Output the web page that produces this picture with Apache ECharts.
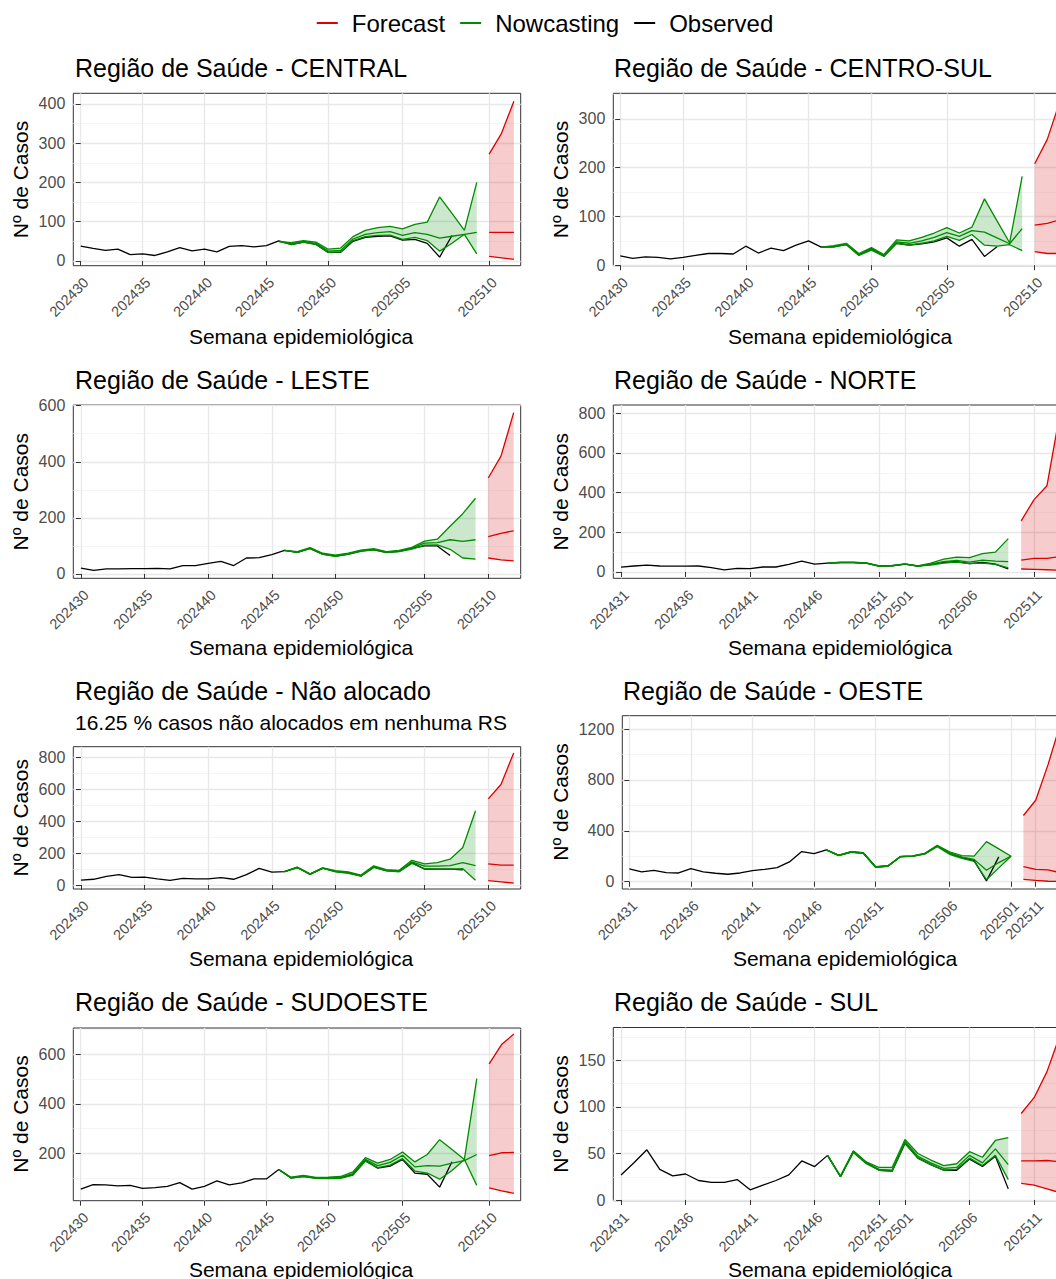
<!DOCTYPE html>
<html><head><meta charset="utf-8">
<script src="https://cdn.jsdelivr.net/npm/echarts@6/dist/echarts.min.js"></script>
<style>html,body{margin:0;padding:0;overflow:hidden;background:#fff}#c{width:1090px;height:1279px}</style>
</head><body><div id="c"></div><script>
// ---------- tick labels (week index -> epidemiological week label) ----------
const weekTicksA = [0,5,10,15,20,26,33];
const weekLabelsA = ['202430','202435','202440','202445','202450','202505','202510'];
const weekTicksB = [0,5,10,15,20,27,32];
const weekLabelsB = ['202430','202435','202440','202445','202450','202505','202510'];
const weekTicksC = [0,5,10,15,20,22,27,32];
const weekLabelsC = ['202431','202436','202441','202446','202451','202501','202506','202511'];
const weekTicksD = [0,5,10,15,20,26,31,33];
const weekLabelsD = ['202431','202436','202441','202446','202451','202506','202501','202511'];

// ---------- CENTRAL ----------
const centralObs   = [38,32,27,30,16,18,14,23,34,26,30,23,37,39,36,39,51,42,48,43,22,22,50,60,63,64,53,55,45,10,65];
const centralNcStart = 16;
const centralNcLo  = [50,42,48,42,22,23,52,62,65,66,55,60,52,25,45,68,18];
const centralNcMed = [50,44,50,45,25,27,56,68,72,75,65,72,68,58,63,68,73];
const centralNcHi  = [50,47,52,48,30,33,62,78,85,88,82,93,99,163,121,78,200];
const centralFcStart = 33;
const centralFcLo  = [12,8,4];
const centralFcMed = [73,73,73];
const centralFcHi  = [272,325,407];

// ---------- CENTRO-SUL ----------
const centroSulObs   = [19,14,17,16,13,16,20,24,24,23,39,25,35,30,41,50,37,38,43,21,34,19,45,41,44,48,56,39,53,18,38];
const centroSulNcStart = 16;
const centroSulNcLo  = [37,37,42,20,31,18,45,41,45,50,59,51,63,41,39,42,30];
const centroSulNcMed = [37,38,43,22,33,20,48,45,50,57,67,59,71,68,56,44,75];
const centroSulNcHi  = [37,40,45,24,36,22,52,50,57,66,77,66,78,136,91,46,182];
const centroSulFcStart = 33;
const centroSulFcLo  = [28,24,24];
const centroSulFcMed = [82,86,93];
const centroSulFcHi  = [208,258,336];

// ---------- LESTE ----------
const lesteObs   = [21,13,18,18,19,19,20,18,30,30,38,45,30,57,58,69,84,77,91,71,64,71,82,87,77,81,91,100,100,66];
const lesteNcStart = 16;
const lesteNcLo  = [84,77,90,70,63,70,81,86,76,80,89,103,104,88,57,53];
const lesteNcMed = [84,78,92,72,65,72,83,88,78,82,92,110,112,122,116,122];
const lesteNcHi  = [84,80,94,74,67,74,85,90,80,84,95,117,124,170,215,270];
const lesteFcStart = 32;
const lesteFcLo  = [57,50,47];
const lesteFcMed = [133,145,154];
const lesteFcHi  = [342,420,575];

// ---------- NORTE ----------
const norteObs   = [24,30,34,30,29,29,30,22,11,18,17,25,25,38,55,40,45,47,47,44,29,31,39,29,38,48,52,42,48,40,15];
const norteNcStart = 16;
const norteNcLo  = [45,47,47,44,29,31,39,29,35,45,50,42,45,38,20];
const norteNcMed = [45,48,48,45,30,32,40,30,40,52,58,50,60,55,52];
const norteNcHi  = [45,49,49,46,31,33,41,31,45,65,75,72,92,100,168];
const norteFcStart = 31;
const norteFcLo  = [15,13,11,8];
const norteFcMed = [60,68,68,78];
const norteFcHi  = [258,365,435,800];

// ---------- Não alocado ----------
const naoAlocObs   = [31,36,54,65,48,50,38,29,42,38,38,46,36,65,104,81,84,110,68,106,85,77,57,112,90,85,140,100,100,100,95];
const naoAlocNcStart = 16;
const naoAlocNcLo  = [84,108,66,104,82,73,55,110,88,83,135,102,100,100,102,30];
const naoAlocNcMed = [84,110,68,106,85,77,58,115,92,88,145,118,118,122,140,122];
const naoAlocNcHi  = [84,112,70,108,90,82,62,120,97,92,155,133,140,162,235,465];
const naoAlocFcStart = 32;
const naoAlocFcLo  = [28,20,12];
const naoAlocFcMed = [132,125,125];
const naoAlocFcHi  = [540,630,828];

// ---------- OESTE ----------
const oesteObs   = [100,76,89,71,68,102,76,66,58,68,86,97,110,155,236,220,249,207,233,225,115,123,196,200,220,280,225,190,165,5,195];
const oesteNcStart = 16;
const oesteNcLo  = [249,205,231,223,113,121,194,198,217,275,215,182,160,15,108,200];
const oesteNcMed = [249,207,233,225,115,123,196,200,220,280,225,192,175,90,150,200];
const oesteNcHi  = [249,209,235,227,117,125,198,202,223,285,235,205,200,315,258,200];
const oesteFcStart = 32;
const oesteFcLo  = [18,10,3,2];
const oesteFcMed = [118,97,92,70];
const oesteFcHi  = [520,640,920,1240];

// ---------- SUDOESTE ----------
const sudoesteObs   = [55,73,72,68,70,58,61,66,81,55,66,88,72,80,96,96,134,100,107,99,99,101,114,170,140,148,175,120,115,63,166];
const sudoesteNcStart = 16;
const sudoesteNcLo  = [134,99,106,98,97,98,112,168,142,152,178,128,120,95,130,175,70];
const sudoesteNcMed = [134,101,108,100,100,102,118,175,150,163,192,145,150,148,160,170,195];
const sudoesteNcHi  = [134,103,110,102,103,106,125,182,160,175,205,165,195,255,215,175,502];
const sudoesteFcStart = 33;
const sudoesteFcLo  = [60,48,38];
const sudoesteFcMed = [190,202,203];
const sudoesteFcHi  = [562,640,683];

// ---------- SUL ----------
const sulObs   = [27,40,54,33,26,28,21,19,19,22,11,16,21,27,42,36,48,25,52,40,32,31,61,45,38,32,32,44,36,47,12];
const sulNcStart = 16;
const sulNcLo  = [48,25,51,39,32,31,61,45,38,32,33,45,37,48,22];
const sulNcMed = [48,25,52,40,33,32,63,47,40,34,35,48,40,55,38];
const sulNcHi  = [48,26,53,41,35,35,65,50,43,37,39,52,46,64,67];
const sulFcStart = 31;
const sulFcLo  = [18,16,12,8];
const sulFcMed = [42,42,42.5,41];
const sulFcHi  = [93,110,138,177];

// ---------- y ticks ----------
const yTicksCentral = [0,100,200,300,400];
const yTicksCentroSul = [0,100,200,300];
const yTicksLeste = [0,200,400,600];
const yTicksNorte = [0,200,400,600,800];
const yTicksNaoAloc = [0,200,400,600,800];
const yTicksOeste = [0,400,800,1200];
const yTicksSudoeste = [200,400,600];
const yTicksSul = [0,50,100,150];

const regions = [
  {title:'Região de Saúde - CENTRAL', obs:centralObs, ncStart:centralNcStart, ncLo:centralNcLo, ncMed:centralNcMed, ncHi:centralNcHi, fcStart:centralFcStart, fcLo:centralFcLo, fcMed:centralFcMed, fcHi:centralFcHi, xt:weekTicksA, xl:weekLabelsA, yt:yTicksCentral},
  {title:'Região de Saúde - CENTRO-SUL', obs:centroSulObs, ncStart:centroSulNcStart, ncLo:centroSulNcLo, ncMed:centroSulNcMed, ncHi:centroSulNcHi, fcStart:centroSulFcStart, fcLo:centroSulFcLo, fcMed:centroSulFcMed, fcHi:centroSulFcHi, xt:weekTicksA, xl:weekLabelsA, yt:yTicksCentroSul},
  {title:'Região de Saúde - LESTE', obs:lesteObs, ncStart:lesteNcStart, ncLo:lesteNcLo, ncMed:lesteNcMed, ncHi:lesteNcHi, fcStart:lesteFcStart, fcLo:lesteFcLo, fcMed:lesteFcMed, fcHi:lesteFcHi, xt:weekTicksB, xl:weekLabelsB, yt:yTicksLeste},
  {title:'Região de Saúde - NORTE', obs:norteObs, ncStart:norteNcStart, ncLo:norteNcLo, ncMed:norteNcMed, ncHi:norteNcHi, fcStart:norteFcStart, fcLo:norteFcLo, fcMed:norteFcMed, fcHi:norteFcHi, xt:weekTicksC, xl:weekLabelsC, yt:yTicksNorte},
  {title:'Região de Saúde - Não alocado', subtitle:'16.25 % casos não alocados em nenhuma RS', obs:naoAlocObs, ncStart:naoAlocNcStart, ncLo:naoAlocNcLo, ncMed:naoAlocNcMed, ncHi:naoAlocNcHi, fcStart:naoAlocFcStart, fcLo:naoAlocFcLo, fcMed:naoAlocFcMed, fcHi:naoAlocFcHi, xt:weekTicksB, xl:weekLabelsB, yt:yTicksNaoAloc},
  {title:'Região de Saúde - OESTE', obs:oesteObs, ncStart:oesteNcStart, ncLo:oesteNcLo, ncMed:oesteNcMed, ncHi:oesteNcHi, fcStart:oesteFcStart, fcLo:oesteFcLo, fcMed:oesteFcMed, fcHi:oesteFcHi, xt:weekTicksD, xl:weekLabelsD, yt:yTicksOeste},
  {title:'Região de Saúde - SUDOESTE', obs:sudoesteObs, ncStart:sudoesteNcStart, ncLo:sudoesteNcLo, ncMed:sudoesteNcMed, ncHi:sudoesteNcHi, fcStart:sudoesteFcStart, fcLo:sudoesteFcLo, fcMed:sudoesteFcMed, fcHi:sudoesteFcHi, xt:weekTicksA, xl:weekLabelsA, yt:yTicksSudoeste},
  {title:'Região de Saúde - SUL', obs:sulObs, ncStart:sulNcStart, ncLo:sulNcLo, ncMed:sulNcMed, ncHi:sulNcHi, fcStart:sulFcStart, fcLo:sulFcLo, fcMed:sulFcMed, fcHi:sulFcHi, xt:weekTicksC, xl:weekLabelsC, yt:yTicksSul}
];

// ---------- layout (pixels / axis ranges) ----------
const layout = [
  {left:73.3, top:93.3, width:447.4, height:172.4, xMin:-0.6, xMax:35.55, yMin:-12, yMax:427, tx:75, ty:68, ytx:20.5, yty:179.5, xtx:301, xty:336},
  {left:613.3, top:93.3, width:453.7, height:172.4, xMin:-0.55, xMax:35.57, yMin:-1, yMax:352.5, tx:614, ty:68, ytx:560.5, yty:179.5, xtx:840, xty:336},
  {left:73.3, top:405, width:447.4, height:173.3, xMin:-0.6, xMax:34.55, yMin:-15.4, yMax:602.4, tx:75, ty:380, ytx:20.5, yty:491.7, xtx:301, xty:647},
  {left:613.3, top:405, width:453.7, height:173.3, xMin:-0.6, xMax:34.55, yMin:-32, yMax:842, tx:614, ty:380, ytx:560.5, yty:491.7, xtx:840, xty:647},
  {left:73.3, top:746.7, width:447.4, height:142.3, xMin:-0.6, xMax:34.55, yMin:-25, yMax:867, tx:75, ty:691, sy:722, ytx:20.5, yty:817.8, xtx:301, xty:958},
  {left:622.3, top:715.7, width:444.7, height:173.3, xMin:-0.57, xMax:35.54, yMin:-58, yMax:1305, tx:623, ty:691, ytx:560.5, yty:802, xtx:845, xty:958},
  {left:73.3, top:1028, width:447.4, height:172.7, xMin:-0.6, xMax:35.55, yMin:8, yMax:707, tx:75, ty:1002, ytx:20.5, yty:1114, xtx:301, xty:1269},
  {left:613.3, top:1027.5, width:453.7, height:173.2, xMin:-0.6, xMax:34.55, yMin:-0.7, yMax:185.4, tx:614, ty:1002, ytx:560.5, yty:1114, xtx:840, xty:1269}
];

const FONT = '"Liberation Sans", Arial, Helvetica, sans-serif';
const RED = '#DD0000', GREEN = '#008B00', BLACK = '#000000';
const RED_FILL = 'rgba(210,0,0,0.2)', GREEN_FILL = 'rgba(0,139,0,0.2)';

function pairs(start, arr) { return arr.map((v, i) => [start + i, v]); }
function minorOf(ticks, lo, hi) {
  const step = ticks.length > 1 ? ticks[1] - ticks[0] : 1;
  const ext = [ticks[0] - step].concat(ticks, [ticks[ticks.length - 1] + step]);
  const out = [];
  for (let i = 0; i < ext.length - 1; i++) {
    const m = (ext[i] + ext[i + 1]) / 2;
    if (m > lo && m < hi) out.push(m);
  }
  return out;
}
function txt(x, y, s, size, align, vAlign, rot) {
  return {type:'text', x:x, y:y, rotation:rot || 0, silent:true, z:100,
    style:{text:s, fontSize:size, fontFamily:FONT, fill:'#000',
      align:align, verticalAlign:vAlign, textAlign:align, textVerticalAlign:vAlign}};
}

const grids = [], xAxes = [], yAxes = [], series = [], graphics = [];
regions.forEach((r, i) => {
  const L = layout[i];
  grids.push({left:L.left, top:L.top, width:L.width, height:L.height, show:true,
    borderColor:'#333333', borderWidth:1, backgroundColor:'#fff', containLabel:false, outerBoundsMode:'none'});
  xAxes.push({type:'value', gridIndex:i, min:L.xMin, max:L.xMax,
    axisLine:{show:false},
    axisTick:{show:true, customValues:r.xt, length:5, lineStyle:{color:'#333333', width:1}},
    axisLabel:{show:true, customValues:r.xt, formatter:(v) => { const k = r.xt.indexOf(v); return k >= 0 ? r.xl[k] : ''; },
      rotate:45, align:'right', verticalAlign:'top', margin:9, fontSize:14.5, color:'#4D4D4D', fontFamily:FONT, hideOverlap:false},
    splitLine:{show:true, lineStyle:{color:'#E8E8E8', width:1.4}}});
  yAxes.push({type:'value', gridIndex:i, min:L.yMin, max:L.yMax, position:'left',
    axisLine:{show:false},
    axisTick:{show:true, customValues:r.yt, length:5, lineStyle:{color:'#333333', width:1}},
    axisLabel:{show:true, customValues:r.yt, formatter:(v) => String(v), margin:8, fontSize:16, color:'#4D4D4D', fontFamily:FONT},
    splitLine:{show:true, lineStyle:{color:'#E8E8E8', width:1.4}}});
  const minors = minorOf(r.yt, L.yMin, L.yMax);
  yAxes.push({type:'value', gridIndex:i, min:L.yMin, max:L.yMax, position:'left', offset:0,
    axisLine:{show:false},
    axisTick:{show:false, customValues:minors},
    axisLabel:{show:false, customValues:minors},
    splitLine:{show:true, lineStyle:{color:'#F2F2F2', width:0.8}}});
  const yi = i * 2;

  const band = (start, lo, hi, fill) => ({
    type:'custom', name:'band', xAxisIndex:i, yAxisIndex:yi, silent:true, z:1, clip:true,
    data:[[start, lo[0]]],
    renderItem: (params, api) => {
      const pts = [];
      for (let k = 0; k < hi.length; k++) pts.push(api.coord([start + k, hi[k]]));
      for (let k = lo.length - 1; k >= 0; k--) pts.push(api.coord([start + k, lo[k]]));
      return {type:'polygon', shape:{points:pts}, style:{fill:fill, stroke:'none'}};
    }
  });
  const line = (name, data, color, z) => ({
    type:'line', name:name, xAxisIndex:i, yAxisIndex:yi, data:data, showSymbol:false, symbol:'none',
    z:z, clip:true, silent:true, emphasis:{disabled:true},
    lineStyle:{color:color, width:1.3}, itemStyle:{color:color}
  });
  series.push(band(r.fcStart, r.fcLo, r.fcHi, RED_FILL));
  series.push(band(r.ncStart, r.ncLo, r.ncHi, GREEN_FILL));
  series.push(line('Observed', pairs(0, r.obs), BLACK, 3));
  series.push(line('Nowcasting', pairs(r.ncStart, r.ncLo), GREEN, 4));
  series.push(line('Nowcasting', pairs(r.ncStart, r.ncMed), GREEN, 4));
  series.push(line('Nowcasting', pairs(r.ncStart, r.ncHi), GREEN, 4));
  series.push(line('Forecast', pairs(r.fcStart, r.fcLo), RED, 5));
  series.push(line('Forecast', pairs(r.fcStart, r.fcMed), RED, 5));
  series.push(line('Forecast', pairs(r.fcStart, r.fcHi), RED, 5));

  graphics.push(txt(L.tx, L.ty, r.title, 25, 'left', 'middle'));
  if (r.subtitle) graphics.push(txt(L.tx, L.sy, r.subtitle, 21, 'left', 'middle'));
  graphics.push(txt(L.ytx, L.yty, 'Nº de Casos', 21, 'center', 'middle', Math.PI / 2));
  graphics.push(txt(L.xtx, L.xty, 'Semana epidemiológica', 21, 'center', 'middle'));
});

const chart = echarts.init(document.getElementById('c'), null, {renderer:'svg'});
chart.setOption({
  animation:false,
  backgroundColor:'#ffffff',
  textStyle:{fontFamily:FONT},
  legend:{data:['Forecast','Nowcasting','Observed'], top:6, left:'center', icon:'rect',
    itemWidth:21, itemHeight:2, itemGap:15, selectedMode:false,
    textStyle:{fontSize:24, color:'#000', fontFamily:FONT, padding:[0,0,0,9]}},
  grid:grids, xAxis:xAxes, yAxis:yAxes, series:series, graphic:graphics
});
</script></body></html>
